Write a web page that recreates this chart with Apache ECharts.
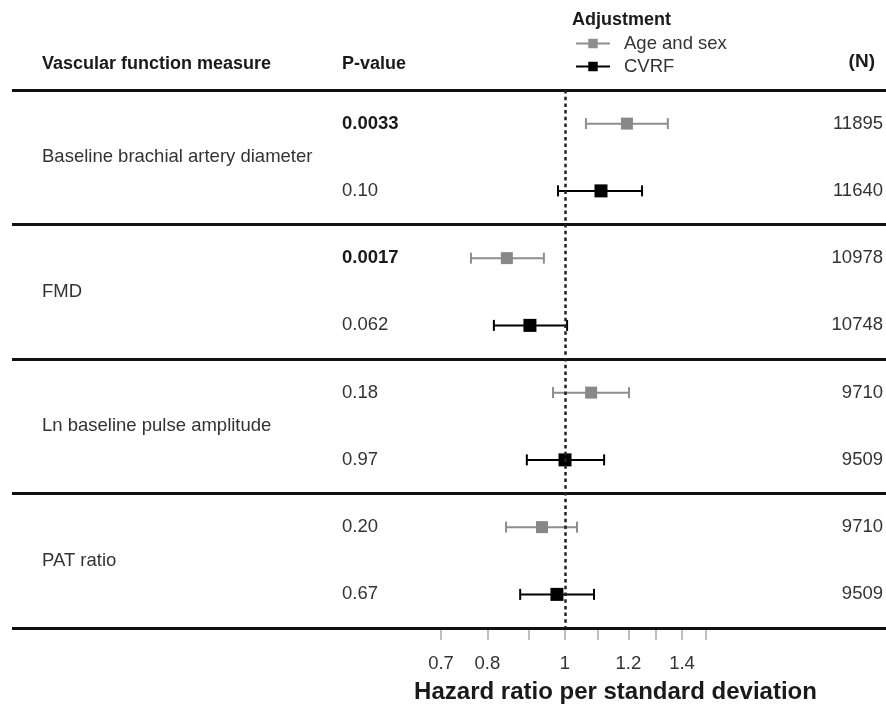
<!DOCTYPE html>
<html>
<head>
<meta charset="utf-8">
<script src="https://cdn.jsdelivr.net/npm/echarts@6/dist/echarts.min.js"></script>
<style>html,body{margin:0;padding:0;background:#fff}#c{width:886px;height:710px}</style>
</head>
<body>
<div id="c"></div>
<script>
// ---- data ----
const measures = ['Baseline brachial artery diameter', 'FMD', 'Ln baseline pulse amplitude', 'PAT ratio'];
const pValues = ['0.0033', '0.10', '0.0017', '0.062', '0.18', '0.97', '0.20', '0.67'];
const pBold = [true, false, true, false, false, false, false, false];
const nValues = ['11895', '11640', '10978', '10748', '9710', '9509', '9710', '9509'];
const ageSexHR = [1.195, 0.846, 1.078, 0.936];
const ageSexLo = [1.062, 0.763, 0.966, 0.844];
const ageSexHi = [1.344, 0.941, 1.202, 1.035];
const cvrfHR = [1.109, 0.904, 1.000, 0.977];
const cvrfLo = [0.980, 0.815, 0.896, 0.879];
const cvrfHi = [1.248, 1.006, 1.119, 1.087];
const xTicks = [0.7, 0.8, 0.9, 1.0, 1.1, 1.2, 1.3, 1.4, 1.5];
const xLabels = [0.7, 0.8, 1, 1.2, 1.4];
const seriesNames = ['Age and sex', 'CVRF'];

// ---- layout / style ----
const FONT = '"Liberation Sans", Arial, sans-serif';
const BODY = 18.5;
const GRAY = '#8e8e8e';
const BLACK = '#000000';
const rows = pValues.map((_, i) => i);           // 0..7
const ageRows = measures.map((_, i) => 2 * i);   // 0,2,4,6
const cvrfRows = measures.map((_, i) => 2 * i + 1);
const measureRows = measures.map((_, i) => 2 * i + 0.5);
const sepRows = [-0.5, 1.5, 3.5, 5.5, 7.5];

function errBar(color) {
  return function (params, api) {
    const lo = api.coord([api.value(0), api.value(2)]);
    const hi = api.coord([api.value(1), api.value(2)]);
    const h = 5.5;
    const st = { stroke: color, lineWidth: 2 };
    return {
      type: 'group',
      children: [
        { type: 'line', shape: { x1: lo[0], y1: lo[1], x2: hi[0], y2: hi[1] }, style: st },
        { type: 'line', shape: { x1: lo[0], y1: lo[1] - h, x2: lo[0], y2: lo[1] + h }, style: st },
        { type: 'line', shape: { x1: hi[0], y1: hi[1] - h, x2: hi[0], y2: hi[1] + h }, style: st }
      ]
    };
  };
}

const yCommon = {
  type: 'value', inverse: true, min: -0.5, max: 7.5, gridIndex: 0,
  axisLine: { show: false }, axisTick: { show: false }, splitLine: { show: false }
};

const legendIcon = 'path://M0,4L13,4L13,0L23,0L23,4L36,4L36,6L23,6L23,10L13,10L13,6L0,6Z';

const option = {
  animation: false,
  backgroundColor: '#ffffff',
  textStyle: { fontFamily: FONT },
  title: [
    { text: 'Vascular function measure', left: 42, top: 55, padding: 0,
      textStyle: { fontFamily: FONT, fontSize: 18, fontWeight: 'bold', color: '#1a1a1a' } },
    { text: 'P-value', left: 342, top: 55, padding: 0,
      textStyle: { fontFamily: FONT, fontSize: 18, fontWeight: 'bold', color: '#1a1a1a' } },
    { text: 'Adjustment', left: 572, top: 11, padding: 0,
      textStyle: { fontFamily: FONT, fontSize: 18, fontWeight: 'bold', color: '#1a1a1a' } },
    { text: '(N)', right: 11, top: 52, padding: 0,
      textStyle: { fontFamily: FONT, fontSize: 19, fontWeight: 'bold', color: '#1a1a1a' } }
  ],
  legend: {
    orient: 'vertical', left: 576, top: 34, padding: 0, itemGap: 4,
    itemWidth: 34, itemHeight: 10,
    textStyle: { fontFamily: FONT, fontSize: BODY, color: '#333', padding: [0, 0, 0, 9] },
    data: [
      { name: seriesNames[0], icon: legendIcon, itemStyle: { color: GRAY } },
      { name: seriesNames[1], icon: legendIcon, itemStyle: { color: BLACK } }
    ],
    selectedMode: false
  },
  grid: [
    { left: 441, right: 180, top: 90, height: 538 },
    { left: 12, right: 0, top: 90, height: 538 }
  ],
  xAxis: [
    {
      type: 'log', logBase: 10, min: 0.7, max: 1.5, gridIndex: 0, position: 'bottom',
      axisLine: { show: false, onZero: false },
      splitLine: { show: false },
      axisTick: { show: true, customValues: xTicks, length: 12, lineStyle: { color: '#aaaaaa', width: 1.5 } },
      axisLabel: { customValues: xLabels, margin: 26, fontSize: BODY, color: '#333', fontFamily: FONT,
        formatter: v => String(+(+v).toFixed(2)) },
      name: 'Hazard ratio per standard deviation',
      nameLocation: 'middle', nameGap: 52,
      nameTextStyle: { fontFamily: FONT, fontSize: 24, fontWeight: 'bold', color: '#1a1a1a', padding: [0, 0, 0, 84] }
    },
    { type: 'value', min: 0, max: 1, gridIndex: 1, show: false }
  ],
  yAxis: [
    Object.assign({}, yCommon, {
      position: 'left',
      axisLabel: {
        customValues: rows, margin: 99, align: 'left', fontSize: BODY, color: '#333', fontFamily: FONT,
        formatter: v => pBold[Math.round(v)] ? '{b|' + pValues[Math.round(v)] + '}' : pValues[Math.round(v)],
        rich: { b: { fontWeight: 'bold', fontSize: BODY, color: '#1a1a1a', fontFamily: FONT } }
      }
    }),
    Object.assign({}, yCommon, {
      position: 'left',
      axisLabel: {
        customValues: measureRows, margin: 399, align: 'left', fontSize: BODY, color: '#333', fontFamily: FONT,
        formatter: v => measures[Math.round((v - 0.5) / 2)]
      }
    }),
    Object.assign({}, yCommon, {
      position: 'right',
      axisLabel: {
        customValues: rows, margin: 177, align: 'right', fontSize: BODY, color: '#333', fontFamily: FONT,
        formatter: v => nValues[Math.round(v)]
      }
    }),
    { type: 'value', inverse: true, min: -0.5, max: 7.5, gridIndex: 1, show: false }
  ],
  series: [
    {
      type: 'line', xAxisIndex: 1, yAxisIndex: 3, data: [], silent: true, z: 1,
      markLine: {
        silent: true, symbol: 'none', label: { show: false },
        lineStyle: { color: '#111', width: 3, type: 'solid' },
        data: sepRows.map(r => ({ yAxis: r }))
      }
    },
    {
      type: 'line', xAxisIndex: 0, yAxisIndex: 0, data: [], silent: true, z: 2,
      markLine: {
        silent: true, symbol: 'none', label: { show: false },
        lineStyle: { color: '#222', width: 2.5, type: [3.5, 3.2] },
        data: [{ xAxis: 1 }]
      }
    },
    {
      name: seriesNames[0], type: 'custom', xAxisIndex: 0, yAxisIndex: 0, z: 3,
      renderItem: errBar(GRAY),
      encode: { x: [0, 1], y: 2 },
      data: ageRows.map((r, i) => [ageSexLo[i], ageSexHi[i], r])
    },
    {
      name: seriesNames[1], type: 'custom', xAxisIndex: 0, yAxisIndex: 0, z: 3,
      renderItem: errBar(BLACK),
      encode: { x: [0, 1], y: 2 },
      data: cvrfRows.map((r, i) => [cvrfLo[i], cvrfHi[i], r])
    },
    {
      name: seriesNames[0], type: 'scatter', xAxisIndex: 0, yAxisIndex: 0, z: 4,
      symbol: 'rect', symbolSize: 12, itemStyle: { color: '#888888', opacity: 1 },
      data: ageRows.map((r, i) => [ageSexHR[i], r])
    },
    {
      name: seriesNames[1], type: 'scatter', xAxisIndex: 0, yAxisIndex: 0, z: 4,
      symbol: 'rect', symbolSize: 13, itemStyle: { color: BLACK, opacity: 1 },
      data: cvrfRows.map((r, i) => [cvrfHR[i], r])
    }
  ]
};

const chart = echarts.init(document.getElementById('c'), null, { renderer: 'canvas' });
chart.setOption(option);
</script>
</body>
</html>
